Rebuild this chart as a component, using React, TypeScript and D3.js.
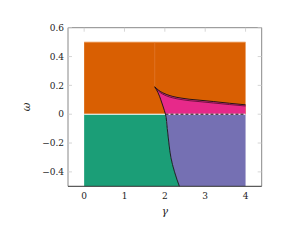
import React from "react";
import * as d3 from "d3";

const xTicks = [0, 1, 2, 3, 4];
const yTicks = [-0.4, -0.2, 0, 0.2, 0.4, 0.6];

// lower boundary (from cusp down to bottom)
const lowerGamma = [1.75, 1.83, 1.9, 1.96, 2.015, 2.06, 2.1, 2.15, 2.24, 2.36];
const lowerOmega = [0.19, 0.15, 0.1, 0.05, 0, -0.1, -0.2, -0.3, -0.4, -0.5];

// upper boundary (from cusp to γ = 4)
const upperGamma = [1.75, 1.85, 1.95, 2.05, 2.2, 2.4, 2.6, 2.87, 3.2, 3.6, 4.0];
const upperOmega = [0.19, 0.165, 0.148, 0.136, 0.123, 0.112, 0.104, 0.097, 0.088, 0.076, 0.065];
const upperOmega2 = [0.19, 0.158, 0.139, 0.126, 0.113, 0.102, 0.094, 0.087, 0.078, 0.067, 0.057];

const regionTop = 0.5;
const gammaMin = 0;
const gammaMax = 4;
const omegaMin = -0.5;
const cuspGamma = 1.75;
const crossGamma = 2.015;

const COLORS = {
  orange: "#d95f02",
  green: "#1b9e77",
  purple: "#7570b3",
  magenta: "#e7298a",
};

export default function App() {
  const x = d3.scaleLinear().domain([-0.4, 4.4]).range([68, 261.7]);
  const y = d3.scaleLinear().domain([-0.5, 0.6]).range([186.3, 27.7]);
  const line = d3
    .line<[number, number]>()
    .x((d) => x(d[0]))
    .y((d) => y(d[1]))
    .curve(d3.curveMonotoneX);
  const lineY = d3
    .line<[number, number]>()
    .x((d) => x(d[0]))
    .y((d) => y(d[1]))
    .curve(d3.curveMonotoneY);
  const poly = d3
    .line<[number, number]>()
    .x((d) => x(d[0]))
    .y((d) => y(d[1]));

  const lower: [number, number][] = lowerGamma.map((g, i) => [g, lowerOmega[i]]);
  const upper: [number, number][] = upperGamma.map((g, i) => [g, upperOmega[i]]);
  const upper2: [number, number][] = upperGamma.map((g, i) => [g, upperOmega2[i]]);
  const lowerBelow = lower.filter((p) => p[1] <= 0);
  const lowerAbove = lower.filter((p) => p[1] >= 0);

  const greenPts: [number, number][] = [
    [gammaMin, omegaMin],
    [gammaMin, 0],
    ...lowerBelow,
  ];
  const purplePts: [number, number][] = [
    ...lowerBelow,
    [gammaMax, omegaMin],
    [gammaMax, 0],
  ];
  const magentaPts: [number, number][] = [
    ...upper,
    [gammaMax, 0],
    ...lowerAbove.slice().reverse(),
  ];

  const [xl, xr] = x.range();
  const [yb, yt] = y.range();
  const font = "DejaVu Serif";

  return (
    <svg
      width={282}
      height={240}
      style={{ position: "absolute", left: 0, top: 0, background: "#fff" }}
    >
      {/* orange region */}
      <rect
        x={x(gammaMin)}
        y={y(regionTop)}
        width={x(gammaMax) - x(gammaMin)}
        height={y(0) - y(regionTop)}
        fill={COLORS.orange}
      />
      <line x1={x(gammaMin)} x2={x(gammaMax)} y1={y(regionTop)} y2={y(regionTop)} stroke="#f0a060" strokeWidth={0.8} />
      <line x1={x(cuspGamma)} x2={x(cuspGamma)} y1={y(regionTop)} y2={y(0.19)} stroke="#e6803a" strokeWidth={0.6} />
      <path d={poly(greenPts) + "Z"} fill={COLORS.green} />
      <path d={poly(purplePts) + "Z"} fill={COLORS.purple} />
      <path d={poly(magentaPts) + "Z"} fill={COLORS.magenta} />
      {/* boundaries */}
      <line x1={x(gammaMin)} x2={x(crossGamma)} y1={y(0)} y2={y(0)} stroke="#fff" strokeWidth={1} />
      <line x1={x(crossGamma)} x2={x(gammaMax)} y1={y(0)} y2={y(0)} stroke="#fff" strokeWidth={1} />
      <line x1={x(crossGamma)} x2={x(gammaMax)} y1={y(0)} y2={y(0)} stroke="#111" strokeWidth={1} strokeDasharray="3 2" />
      <path d={line(upper) || ""} fill="none" stroke="#111" strokeWidth={0.9} />
      <path d={line(upper2) || ""} fill="none" stroke="#3a0a20" strokeWidth={0.7} />
      <path d={lineY(lower) || ""} fill="none" stroke="#111" strokeWidth={0.9} />

      {/* frame */}
      <line x1={xl} x2={xl} y1={yt} y2={yb} stroke="#888" strokeWidth={1} />
      <line x1={xr} x2={xr} y1={yt} y2={yb} stroke="#888" strokeWidth={1} />
      <line x1={xl} x2={xr} y1={yt} y2={yt} stroke="#888" strokeWidth={1} />
      <line x1={xl} x2={xr} y1={yb} y2={yb} stroke="#333" strokeWidth={1} />

      {/* ticks */}
      {xTicks.map((t) => (
        <g key={"x" + t}>
          <line x1={x(t)} x2={x(t)} y1={yt} y2={yt + 4} stroke="#ccc" strokeWidth={0.8} />
          <text x={x(t)} y={yb + 13} textAnchor="middle" fontFamily={font} fontSize={9} fill="#222">
            {t}
          </text>
        </g>
      ))}
      {yTicks.map((t) => (
        <g key={"y" + t}>
          <line x1={xl} x2={xl + 4} y1={y(t)} y2={y(t)} stroke="#ccc" strokeWidth={0.8} />
          <line x1={xr - 4} x2={xr} y1={y(t)} y2={y(t)} stroke="#ccc" strokeWidth={0.8} />
          <text x={xl - 4} y={y(t) + 3.2} textAnchor="end" fontFamily={font} fontSize={9} fill="#222">
            {t === 0 ? "0" : (t < 0 ? "\u2212" : "") + Math.abs(t).toFixed(1)}
          </text>
        </g>
      ))}
      <text x={x(2)} y={yb + 29} textAnchor="middle" fontFamily={font} fontStyle="italic" fontSize={10.5} fill="#222">
        γ
      </text>
      <text
        transform={`translate(30, ${y(0.05)}) rotate(-90)`}
        textAnchor="middle"
        fontFamily={font}
        fontStyle="italic"
        fontSize={10.5}
        fill="#222"
      >
        ω
      </text>
    </svg>
  );
}
